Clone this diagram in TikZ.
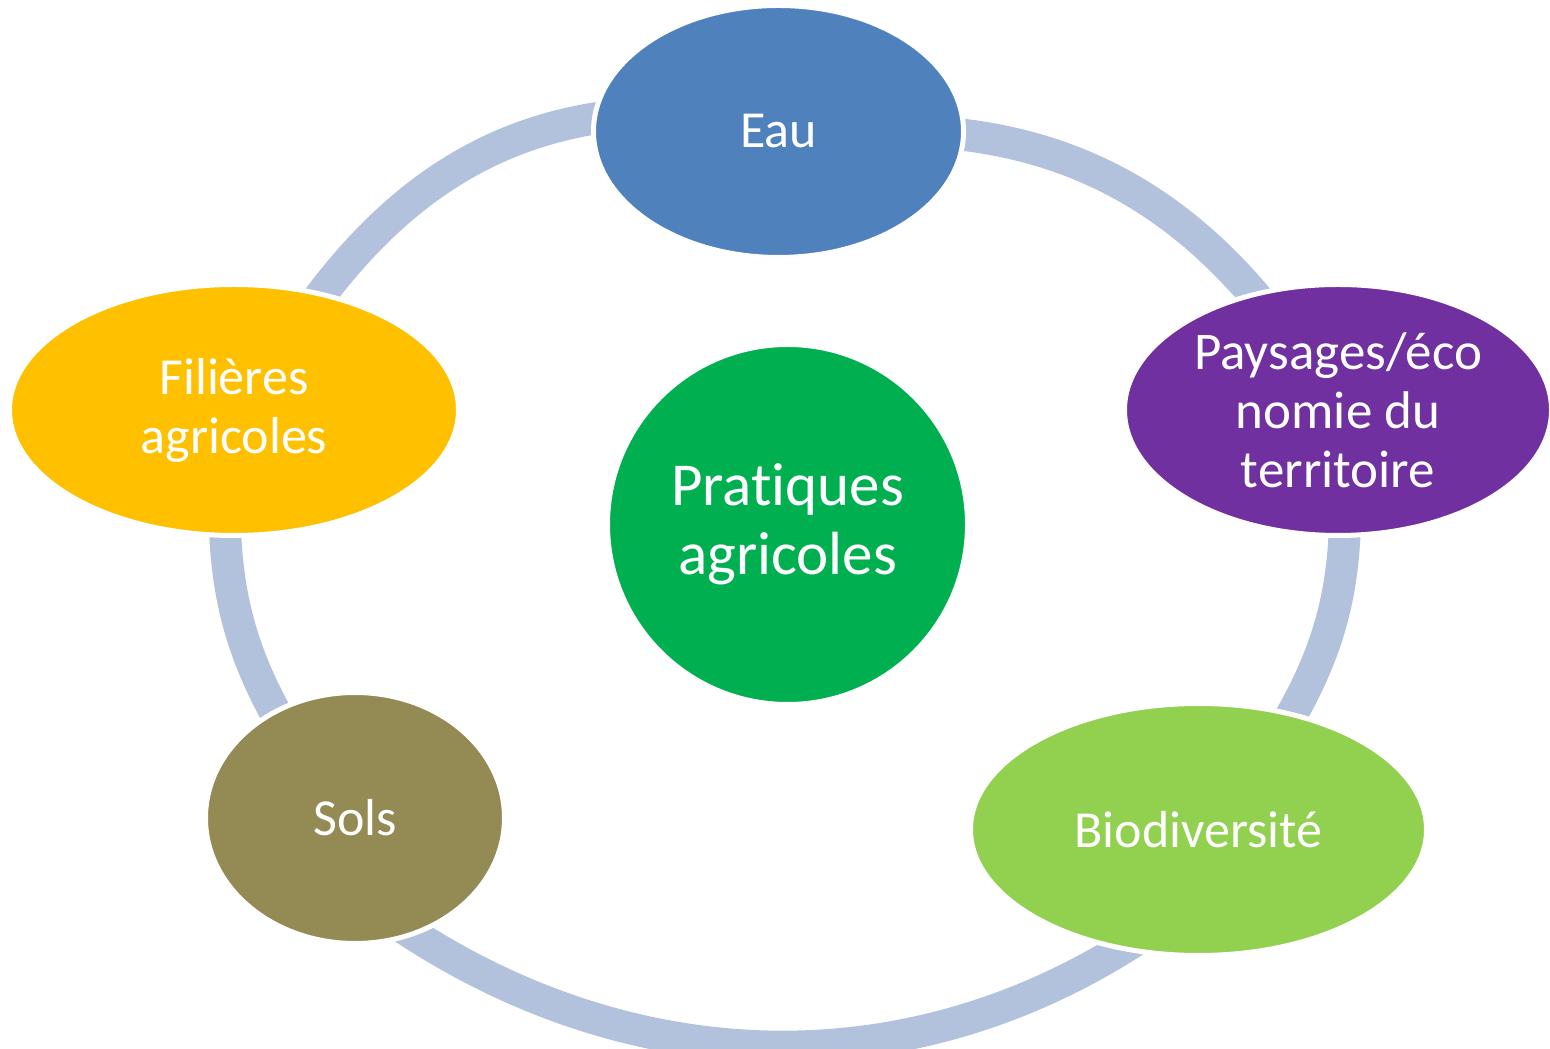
\documentclass[tikz,border=0pt]{standalone}
\usepackage{fontspec}
\setmainfont{Carlito}[Ligatures=NoCommon]
\usetikzlibrary{shapes.geometric,backgrounds}
\definecolor{eaublue}{HTML}{4F81BD}
\definecolor{paysviolet}{HTML}{7030A0}
\definecolor{biogreen}{HTML}{92D050}
\definecolor{solsolive}{HTML}{948A54}
\definecolor{filgold}{HTML}{FFC000}
\definecolor{pratgreen}{HTML}{00B050}
\definecolor{ringblue}{HTML}{B3C2DC}
\tikzset{
bubble/.style={ellipse,draw=white,line width=2.5pt,inner sep=0pt,text=white,align=center},
cycleArc/.style={line width=16pt,color=ringblue,shorten <=-10pt,shorten >=-10pt},
}
\tikzstyle{every node}=[font=\fontsize{26}{29.5}\selectfont]

\begin{document}
\begin{tikzpicture}[x=0.5pt,y=0.5pt]
        \useasboundingbox (0,0) rectangle (1550,1048);
        \node[bubble,fill=eaublue,minimum width=185pt,minimum height=126pt] (eau) at (778.5,916.5) {Eau};
        \node[bubble,fill=paysviolet,minimum width=213.5pt,minimum height=125.5pt,font=\fontsize{26.5}{29.5}\selectfont] (paysages) at (1338,638) {Paysages/éco\\nomie du\\territoire};
        \node[bubble,fill=biogreen,minimum width=228pt,minimum height=126pt] (biodiv) at (1198.5,218.5) {Biodiversité};
        \node[bubble,fill=solsolive,minimum width=149.5pt,minimum height=125.5pt] (sols) at (355,230) {Sols};
        \node[bubble,fill=filgold,minimum width=224.5pt,minimum height=125.5pt] (filieres) at (234,638) {Filières\\agricoles};
        \node[bubble,circle,fill=pratgreen,minimum size=180pt,font=\fontsize{30.5}{34.5}\selectfont] (pratiques) at (787.5,523.5) {Pratiques\\agricoles};

        % the cycle, under the bubbles
        \begin{scope}[on background layer]
        \draw[cycleArc] (eau.176) to[out=187,in=54,looseness=0.89] (filieres.53);
        \draw[cycleArc] (eau.-1) to[out=-5,in=129,looseness=0.89] (paysages.126);
        \draw[cycleArc] (paysages.-87) to[out=-91,in=59,looseness=0.87] (biodiv.51);
        \draw[cycleArc] (filieres.-94) to[out=-89,in=120,looseness=0.87] (sols.127);
        \draw[cycleArc] (sols.-63) to[out=-34,in=213,looseness=0.93] (biodiv.-123);
        \end{scope}
    \end{tikzpicture}
\end{document}
